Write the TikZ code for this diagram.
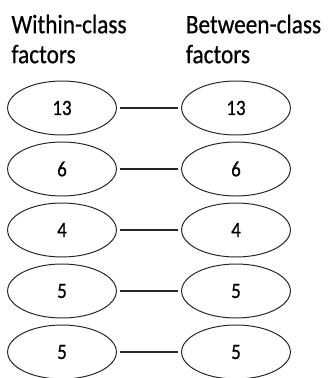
\documentclass[tikz,border=0pt]{standalone}
\usepackage{fontspec}
\setmainfont[FakeStretch=0.87,FakeBold=0.6]{Carlito}
\usepackage{tikz}
\usetikzlibrary{shapes.geometric}
\tikzset{
  headnode/.style={anchor=north west,align=left,inner sep=0pt,font=\fontsize{19}{21.3}\selectfont},
  factnode/.style={ellipse,draw=black!85,line width=0.7pt,minimum width=2.72cm,minimum height=1.35cm,inner sep=0pt,font=\fontsize{15.5}{17}\selectfont},
  linkedge/.style={draw=black!85,line width=0.75pt,shorten <=2pt,shorten >=2pt},
}

\begin{document}
\begin{tikzpicture}
  \useasboundingbox (0,0) rectangle (8.175,-9.45);
  \node[headnode] (hWithin) at (0.28,-0.36) {Within-class\\factors};
  \node[headnode] (hBetween) at (4.64,-0.36) {Between-class\\factors};
  \node[factnode] (nW13) at (1.55,-2.70) {13};
  \node[factnode] (nB13) at (5.90,-2.70) {13};
  \node[factnode] (nW6) at (1.55,-4.225) {6};
  \node[factnode] (nB6) at (5.90,-4.225) {6};
  \node[factnode] (nW4) at (1.55,-5.75) {4};
  \node[factnode] (nB4) at (5.90,-5.75) {4};
  \node[factnode] (nW5a) at (1.55,-7.275) {5};
  \node[factnode] (nB5a) at (5.90,-7.275) {5};
  \node[factnode] (nW5b) at (1.55,-8.80) {5};
  \node[factnode] (nB5b) at (5.90,-8.80) {5};
  \draw[linkedge] (nW13) -- (nB13);
  \draw[linkedge] (nW6) -- (nB6);
  \draw[linkedge] (nW4) -- (nB4);
  \draw[linkedge] (nW5a) -- (nB5a);
  \draw[linkedge] (nW5b) -- (nB5b);
\end{tikzpicture}
\end{document}
